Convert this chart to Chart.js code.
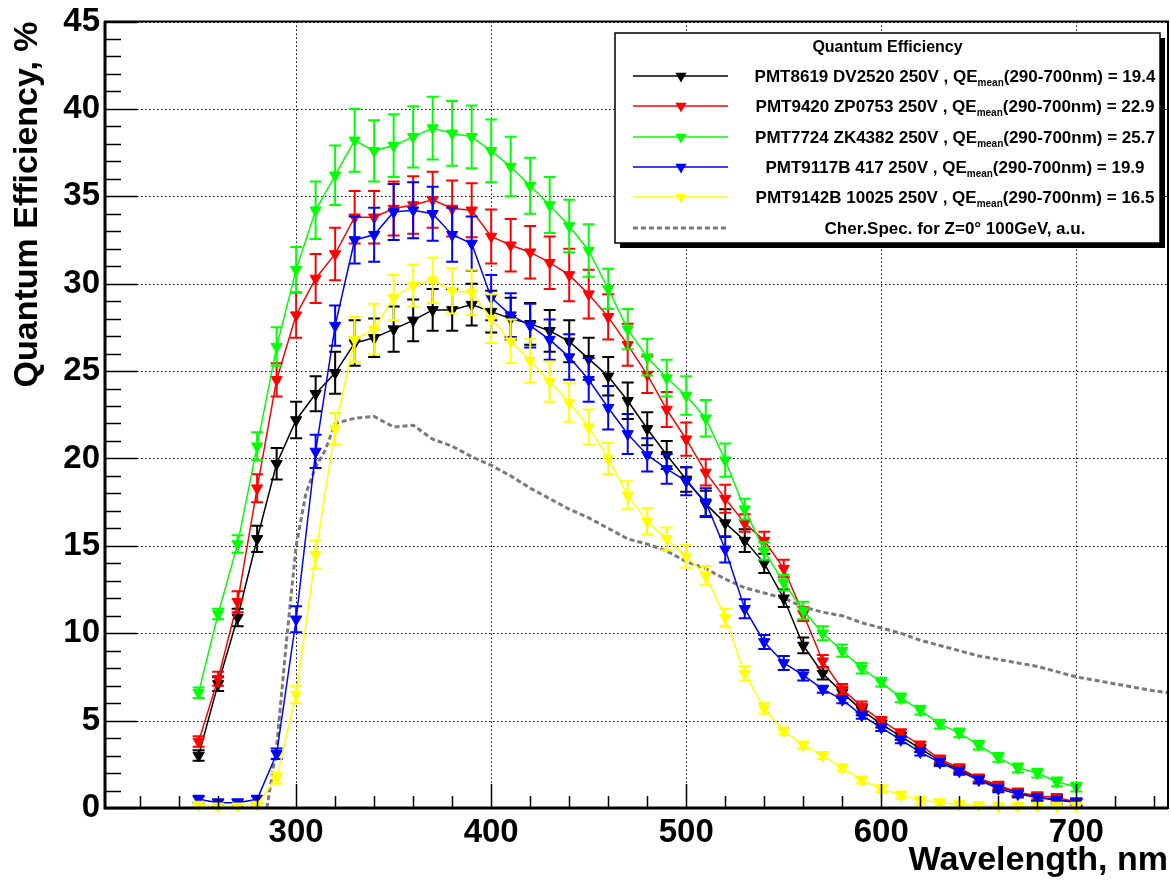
<!DOCTYPE html>
<html>
<head>
<meta charset="utf-8">
<title>Quantum Efficiency</title>
<script src="https://cdn.jsdelivr.net/npm/chart.js@4.4.1/dist/chart.umd.min.js"></script>
<style>
  html, body { margin: 0; padding: 0; background: #fff; overflow: hidden; }
  #wrap { width: 1171px; height: 884px; }
</style>
</head>
<body>
<div id="wrap"><canvas id="qeChart" width="1171" height="884"></canvas></div>
<script>
// wavelength grid of the measurements (nm)
const wavelengths = [250, 260, 270, 280, 290, 300, 310, 320, 330, 340,
                     350, 360, 370, 380, 390, 400, 410, 420, 430, 440,
                     450, 460, 470, 480, 490, 500, 510, 520, 530, 540,
                     550, 560, 570, 580, 590, 600, 610, 620, 630, 640,
                     650, 660, 670, 680, 690, 700];

const blackQE = [3.0, 7.1, 10.9, 15.4, 19.7, 22.2, 23.7, 24.9, 26.6, 26.9,
                 27.4, 27.9, 28.5, 28.5, 28.8, 28.4, 28.0, 27.7, 27.3, 26.7,
                 25.7, 24.7, 23.3, 21.7, 20.2, 18.8, 17.4, 16.3, 15.3, 14.0,
                 12.0, 9.3, 7.7, 6.6, 5.6, 4.8, 4.1, 3.4, 2.7, 2.2,
                 1.7, 1.2, 0.9, 0.6, 0.5, 0.3];
const blackErr = [0.3, 0.4, 0.5, 0.75, 0.9, 1.05, 1.0, 1.2, 1.3, 1.1,
                  1.3, 1.2, 1.2, 1.2, 1.2, 1.2, 1.2, 1.2, 1.2, 1.2,
                  1.2, 1.1, 1.05, 0.95, 0.8, 0.7, 0.75, 0.8, 0.65, 0.55,
                  0.5, 0.45, 0.35, 0.3, 0.3, 0.2, 0.2, 0.2, 0.2, 0.2,
                  0.2, 0.2, 0.2, 0.2, 0.2, 0.2];

const redQE = [3.8, 7.4, 11.8, 18.3, 24.5, 28.2, 30.3, 31.7, 33.8, 33.8,
               34.3, 34.5, 34.8, 34.3, 34.2, 32.7, 32.2, 31.8, 31.2, 30.5,
               29.4, 28.1, 26.5, 24.8, 22.8, 21.1, 19.2, 17.7, 16.3, 15.3,
               13.7, 11.1, 8.4, 6.8, 5.8, 5.0, 4.3, 3.6, 2.8, 2.3,
               1.7, 1.3, 0.9, 0.7, 0.6, 0.35];
const redErr = [0.3, 0.4, 0.6, 0.8, 0.95, 1.3, 1.4, 1.5, 1.5, 1.5,
                1.55, 1.65, 1.6, 1.6, 1.55, 1.55, 1.5, 1.5, 1.5, 1.5,
                1.4, 1.3, 1.2, 1.05, 1.0, 0.95, 0.75, 0.8, 0.5, 0.5,
                0.5, 0.4, 0.35, 0.3, 0.3, 0.2, 0.2, 0.2, 0.2, 0.2,
                0.2, 0.2, 0.2, 0.2, 0.2, 0.2];

const greenQE = [6.6, 11.1, 15.1, 20.7, 26.4, 30.8, 34.2, 36.2, 38.2, 37.6,
                 37.9, 38.4, 38.9, 38.6, 38.4, 37.6, 36.7, 35.6, 34.5, 33.3,
                 31.9, 29.7, 27.4, 25.8, 24.6, 23.6, 22.3, 19.9, 17.1, 14.7,
                 12.9, 11.3, 10.0, 9.0, 8.0, 7.2, 6.3, 5.6, 4.8, 4.3,
                 3.6, 2.9, 2.3, 2.0, 1.5, 1.2];
const greenErr = [0.3, 0.3, 0.5, 0.8, 1.1, 1.3, 1.65, 1.7, 1.8, 1.75,
                  1.8, 1.75, 1.8, 1.85, 1.8, 1.8, 1.7, 1.6, 1.6, 1.5,
                  1.5, 1.15, 1.15, 1.05, 1.05, 1.1, 1.05, 0.95, 0.6, 0.5,
                  0.45, 0.5, 0.4, 0.35, 0.3, 0.25, 0.25, 0.25, 0.25, 0.25,
                  0.25, 0.25, 0.25, 0.25, 0.25, 0.25];

const blueQE = [0.5, 0.3, 0.3, 0.5, 3.1, 10.8, 20.4, 27.6, 32.5, 32.8,
                34.1, 34.2, 34.0, 32.8, 32.3, 29.2, 28.2, 27.6, 26.8, 25.8,
                24.5, 22.9, 21.4, 20.2, 19.4, 18.7, 17.5, 14.8, 11.4, 9.5,
                8.3, 7.6, 6.8, 6.2, 5.3, 4.6, 3.9, 3.2, 2.6, 2.1,
                1.6, 1.1, 0.8, 0.6, 0.45, 0.35];
const blueErr = [0.2, 0.2, 0.2, 0.2, 0.3, 0.75, 0.95, 1.15, 1.35, 1.55,
                 1.6, 1.6, 1.55, 1.55, 1.55, 1.3, 1.25, 1.25, 1.15, 1.3,
                 1.25, 1.25, 1.15, 0.95, 0.85, 0.8, 0.8, 0.75, 0.55, 0.4,
                 0.4, 0.3, 0.2, 0.2, 0.2, 0.2, 0.2, 0.2, 0.2, 0.2,
                 0.2, 0.2, 0.2, 0.2, 0.2, 0.2];

const yellowQE = [0.2, 0.1, 0.1, 0.2, 1.7, 6.5, 14.5, 21.7, 26.8, 27.4,
                  29.2, 29.9, 30.2, 29.6, 29.5, 28.0, 26.7, 25.6, 24.4, 23.2,
                  21.8, 20.0, 17.9, 16.4, 15.4, 14.4, 13.3, 10.9, 7.7, 5.7,
                  4.4, 3.6, 3.0, 2.3, 1.6, 1.1, 0.75, 0.45, 0.3, 0.2,
                  0.15, 0.1, 0.1, 0.1, 0.1, 0.1];
const yellowErr = [0.1, 0.1, 0.1, 0.1, 0.3, 0.5, 0.8, 0.9, 1.3, 1.45,
                   1.3, 1.2, 1.3, 1.3, 1.3, 1.4, 1.25, 1.25, 1.15, 1.1,
                   1.0, 0.9, 0.8, 0.75, 0.65, 0.65, 0.55, 0.5, 0.4, 0.3,
                   0.2, 0.2, 0.2, 0.2, 0.2, 0.2, 0.2, 0.2, 0.2, 0.2,
                   0.2, 0.2, 0.2, 0.2, 0.2, 0.2];

// Cherenkov spectrum (arbitrary units)
const cherWavelengths = [285, 290, 295, 300, 305, 310, 315, 320, 330, 340,
                         350, 360, 370, 380, 390, 400, 410, 420, 430, 440,
                         450, 460, 470, 480, 490, 500, 510, 520, 530, 540,
                         550, 560, 570, 580, 590, 600, 610, 620, 630, 640,
                         650, 660, 670, 680, 690, 700, 710, 720, 730, 740, 747];
const cherSpectrum = [0.0, 3.5, 9.5, 15.0, 18.0, 19.5, 20.5, 22.0, 22.3, 22.4,
                      21.8, 21.9, 21.1, 20.7, 20.1, 19.6, 19.0, 18.3, 17.7, 17.1,
                      16.6, 16.0, 15.4, 15.1, 14.7, 14.1, 13.7, 13.1, 12.6, 12.3,
                      12.0, 11.5, 11.2, 11.0, 10.6, 10.3, 10.0, 9.6, 9.3, 9.0,
                      8.7, 8.5, 8.3, 8.1, 7.8, 7.5, 7.3, 7.1, 6.9, 6.7, 6.6];

const seriesNames = ['PMT8619 DV2520 250V', 'PMT9420 ZP0753 250V', 'PMT7724 ZK4382 250V',
                     'PMT9117B 417 250V', 'PMT9142B 10025 250V'];
const qeMean = ['19.4', '22.9', '25.7', '19.9', '16.5'];
const seriesColors = ['#000000', '#ff0000', '#00ff00', '#0000ff', '#ffff00'];
const cherLabel = 'Cher.Spec. for Z=0° 100GeV, a.u.';
const legendTitle = 'Quantum Efficiency';

const xMajorTicks = [300, 400, 500, 600, 700];
const yMajorTicks = [0, 5, 10, 15, 20, 25, 30, 35, 40, 45];

const FONT = "'Liberation Sans', Arial, Helvetica, sans-serif";

function toPoints(xs, ys) {
    return xs.map((x, i) => ({ x: x, y: ys[i] }));
}

const qeSets = [blackQE, redQE, greenQE, blueQE, yellowQE];
const errSets = [blackErr, redErr, greenErr, blueErr, yellowErr];

const datasets = qeSets.map((vals, i) => ({
    label: seriesNames[i],
    data: toPoints(wavelengths, vals),
    errors: errSets[i],
    borderColor: seriesColors[i],
    backgroundColor: seriesColors[i],
    borderWidth: 1.5,
    pointStyle: 'triangle',
    pointRotation: 180,
    pointRadius: 6.5,
    pointBorderWidth: 1,
    pointBorderColor: seriesColors[i],
    pointBackgroundColor: seriesColors[i],
    tension: 0,
    clip: false,
    order: 4 - i
}));

datasets.push({
    label: cherLabel,
    data: toPoints(cherWavelengths, cherSpectrum),
    borderColor: '#7a7a7a',
    borderWidth: 3,
    borderDash: [5, 3],
    pointRadius: 0,
    tension: 0,
    clip: false,
    order: 10
});

// error bars drawn through the chart scales, under each dataset's markers
const errorBarPlugin = {
    id: 'errorBars',
    beforeDatasetDraw(chart, args) {
        const ds = chart.data.datasets[args.index];
        if (!ds.errors) return;
        const { ctx, scales: { x, y } } = chart;
        ctx.save();
        ctx.strokeStyle = ds.borderColor;
        ctx.lineWidth = 2;
        ds.data.forEach((p, i) => {
            const err = ds.errors[i];
            const px = x.getPixelForValue(p.x);
            const top = y.getPixelForValue(p.y + err);
            const bot = y.getPixelForValue(Math.max(p.y - err, 0));
            ctx.beginPath();
            ctx.moveTo(px, top);
            ctx.lineTo(px, bot);
            ctx.moveTo(px - 6, top);
            ctx.lineTo(px + 6, top);
            ctx.moveTo(px - 6, bot);
            ctx.lineTo(px + 6, bot);
            ctx.stroke();
        });
        ctx.restore();
    }
};

// ROOT-like frame: dotted grid, thick axes, inward ticks, titles, legend box
const framePlugin = {
    id: 'rootFrame',
    beforeDatasetsDraw(chart) {
        const { ctx, chartArea: a, scales: { x, y } } = chart;
        ctx.save();
        ctx.strokeStyle = '#000';
        ctx.lineWidth = 1;
        ctx.setLineDash([1.5, 2.5]);
        xMajorTicks.forEach(v => {
            const px = Math.round(x.getPixelForValue(v)) + 0.5;
            ctx.beginPath();
            ctx.moveTo(px, a.top);
            ctx.lineTo(px, a.bottom);
            ctx.stroke();
        });
        yMajorTicks.forEach(v => {
            const py = Math.round(y.getPixelForValue(v)) + 0.5;
            ctx.beginPath();
            ctx.moveTo(a.left, py);
            ctx.lineTo(a.right, py);
            ctx.stroke();
        });
        ctx.restore();
    },
    afterDatasetsDraw(chart) {
        const { ctx, chartArea: a, scales: { x, y } } = chart;
        ctx.save();
        ctx.strokeStyle = '#000';
        ctx.lineWidth = 2;
        ctx.strokeRect(a.left, a.top, a.right - a.left, a.bottom - a.top);
        ctx.lineWidth = 3;
        ctx.beginPath();
        ctx.moveTo(a.left, a.top);
        ctx.lineTo(a.left, a.bottom);
        ctx.lineTo(a.right, a.bottom);
        ctx.stroke();

        // y ticks (major every 5, minor every 1)
        ctx.lineWidth = 1.5;
        ctx.beginPath();
        for (let v = 0; v <= 45; v++) {
            const py = Math.round(y.getPixelForValue(v)) + 0.5;
            const len = v % 5 === 0 ? 32 : 16;
            ctx.moveTo(a.left, py);
            ctx.lineTo(a.left + len, py);
        }
        // x ticks (major every 100, minor every 20)
        for (let v = 220; v <= 740; v += 20) {
            const px = Math.round(x.getPixelForValue(v)) + 0.5;
            const len = v % 100 === 0 ? 24 : 12;
            ctx.moveTo(px, a.bottom);
            ctx.lineTo(px, a.bottom - len);
        }
        ctx.stroke();
        ctx.restore();
    },
    afterDraw(chart) {
        const { ctx, chartArea: a } = chart;
        ctx.save();
        ctx.fillStyle = '#000';
        ctx.font = 'bold 34px ' + FONT;

        // axis titles
        ctx.textAlign = 'right';
        ctx.textBaseline = 'alphabetic';
        ctx.fillText('Wavelength, nm', a.right, 870);
        ctx.translate(37, a.top);
        ctx.rotate(-Math.PI / 2);
        ctx.fillText('Quantum Efficiency, %', 0, 0);
        ctx.setTransform(1, 0, 0, 1, 0, 0);

        // legend box with shadow
        const bx = 615, by = 33, bw = 545, bh = 210;
        ctx.fillStyle = '#000';
        ctx.fillRect(bx + 5, by + 5, bw, bh);
        ctx.fillStyle = '#fff';
        ctx.fillRect(bx, by, bw, bh);
        ctx.strokeStyle = '#000';
        ctx.lineWidth = 1.5;
        ctx.strokeRect(bx, by, bw, bh);

        ctx.fillStyle = '#000';
        ctx.textAlign = 'center';
        ctx.textBaseline = 'middle';
        ctx.font = 'bold 16px ' + FONT;
        ctx.fillText(legendTitle, bx + bw / 2, 48);

        const rowY = [76, 106, 137, 167, 197, 228];
        const textCx = 955;
        const mainFont = 'bold 17px ' + FONT;
        const subFont = 'bold 10px ' + FONT;

        seriesNames.forEach((name, i) => {
            const yy = rowY[i];
            ctx.strokeStyle = seriesColors[i];
            ctx.fillStyle = seriesColors[i];
            ctx.lineWidth = 1.5;
            ctx.beginPath();
            ctx.moveTo(633, yy);
            ctx.lineTo(728, yy);
            ctx.stroke();
            // inverted triangle marker
            const r = 6.5;
            ctx.beginPath();
            ctx.moveTo(681, yy + r);
            ctx.lineTo(681 - r * 0.866, yy - r / 2);
            ctx.lineTo(681 + r * 0.866, yy - r / 2);
            ctx.closePath();
            ctx.fill();

            const pre = name + ' , QE';
            const sub = 'mean';
            const post = '(290-700nm) = ' + qeMean[i];
            ctx.font = mainFont;
            const wPre = ctx.measureText(pre).width;
            const wPost = ctx.measureText(post).width;
            ctx.font = subFont;
            const wSub = ctx.measureText(sub).width;
            let tx = textCx - (wPre + wSub + wPost) / 2;
            ctx.fillStyle = '#000';
            ctx.textAlign = 'left';
            ctx.textBaseline = 'alphabetic';
            ctx.font = mainFont;
            ctx.fillText(pre, tx, yy + 6);
            tx += wPre;
            ctx.font = subFont;
            ctx.fillText(sub, tx, yy + 10);
            tx += wSub;
            ctx.font = mainFont;
            ctx.fillText(post, tx, yy + 6);
        });

        // Cherenkov entry
        const cy = rowY[5];
        ctx.strokeStyle = '#7a7a7a';
        ctx.lineWidth = 3;
        ctx.setLineDash([5, 3]);
        ctx.beginPath();
        ctx.moveTo(633, cy);
        ctx.lineTo(728, cy);
        ctx.stroke();
        ctx.setLineDash([]);
        ctx.fillStyle = '#000';
        ctx.textAlign = 'center';
        ctx.font = mainFont;
        ctx.fillText(cherLabel, textCx, cy + 6);
        ctx.restore();
    }
};

const tickFont = { family: FONT, size: 33, weight: 'bold', lineHeight: 1 };

const ctx = document.getElementById('qeChart').getContext('2d');
new Chart(ctx, {
    type: 'line',
    data: { datasets },
    options: {
        responsive: false,
        animation: false,
        devicePixelRatio: 1,
        layout: { autoPadding: false, padding: { top: 18, right: 3, left: 0, bottom: 0 } },
        plugins: {
            legend: { display: false },
            tooltip: { enabled: false }
        },
        scales: {
            x: {
                type: 'linear',
                min: 202,
                max: 747,
                afterFit(scale) { scale.height = 76; },
                afterBuildTicks(scale) { scale.ticks = xMajorTicks.map(v => ({ value: v })); },
                grid: { display: false, drawTicks: false },
                border: { display: false },
                ticks: { font: tickFont, color: '#000', padding: 8, maxRotation: 0, autoSkip: false }
            },
            y: {
                type: 'linear',
                min: 0,
                max: 45,
                afterFit(scale) { scale.width = 105; },
                afterBuildTicks(scale) { scale.ticks = yMajorTicks.map(v => ({ value: v })); },
                grid: { display: false, drawTicks: false },
                border: { display: false },
                ticks: { font: tickFont, color: '#000', padding: 5, autoSkip: false }
            }
        }
    },
    plugins: [errorBarPlugin, framePlugin]
});
</script>
</body>
</html>
